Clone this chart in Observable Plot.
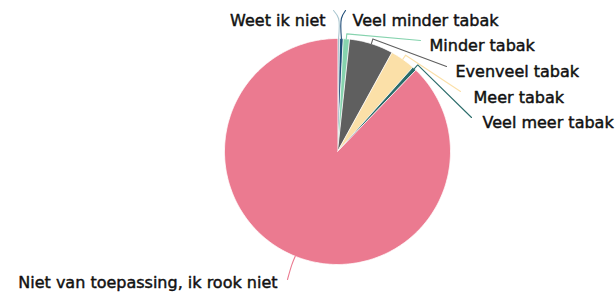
<!DOCTYPE html>
<html><head><meta charset="utf-8">
<script src="https://cdn.jsdelivr.net/npm/d3@7"></script>
<script src="https://cdn.jsdelivr.net/npm/@observablehq/plot@0.6"></script>
<style>body{margin:0;background:#fff;} #chart svg{display:block;}</style>
</head><body><div id="chart"></div>
<script>
// ---- data ----
const categories = ["Weet ik niet","Veel minder tabak","Minder tabak","Evenveel tabak","Meer tabak","Veel meer tabak","Niet van toepassing, ik rook niet"];
const values = [0.3, 0.5, 0.9, 6.3, 3.6, 0.6, 87.8];
const colors = ["#a9c6d0","#1f4d78","#86d3ae","#5f5f5f","#fbe0a8","#2b6c6a","#eb7a90"];

// ---- layout ----
const W = 616, H = 292, cx = 337, cy = 151, R = 113;
const labelX = [325, 352, 429, 455, 473, 482, 277];
const labelY = [20, 20, 45, 71, 97, 122, 282];
const labelAnchor = ["end","start","start","start","start","start","end"];
const lineEndX = [333, 345, 420, 446, 460, 471, 287];
const lineEndY = [10, 10, 40, 66, 91, 117, 279];
const curvedLeader = [true, true, false, false, false, false, true];

const arcs = d3.pie().sort(null).value(d => d)(values);
const pt = (a, r) => [cx + r * Math.sin(a), cy - r * Math.cos(a)];

// slice polygons
const slices = [];
arcs.forEach((a, i) => {
  const cat = categories[i];
  slices.push({cat, x: cx, y: cy});
  const n = Math.max(2, Math.ceil((a.endAngle - a.startAngle) / 0.01));
  for (let k = 0; k <= n; k++) {
    const t = a.startAngle + (a.endAngle - a.startAngle) * k / n;
    const [x, y] = pt(t, R);
    slices.push({cat, x, y});
  }
});

// leader lines
const straight = [], curved = [];
arcs.forEach((a, i) => {
  const cat = categories[i];
  const mid = (a.startAngle + a.endAngle) / 2;
  const [x0, y0] = pt(mid, R);
  let x1, y1;
  if (curvedLeader[i] && i < 2) { x1 = x0; y1 = 18; }
  else { [x1, y1] = pt(mid, R + (i === 6 ? 9 : 5)); }
  const target = curvedLeader[i] ? curved : straight;
  target.push({cat, x: x0, y: y0}, {cat, x: x1, y: y1}, {cat, x: lineEndX[i], y: lineEndY[i]});
});

const labels = categories.map((c, i) => ({cat: c, x: labelX[i], y: labelY[i], anchor: labelAnchor[i]}));

const font = {fontFamily: "DejaVu Sans, Verdana, sans-serif", fontSize: 16, fill: "#111", stroke: "#111", strokeWidth: 0.45};

const chart = Plot.plot({
  width: W, height: H,
  margin: 0,
  x: {domain: [0, W], axis: null},
  y: {domain: [H, 0], axis: null},
  color: {domain: categories, range: colors},
  marks: [
    Plot.line(slices, {x: "x", y: "y", z: "cat", fill: "cat", stroke: "white", strokeWidth: 0.8, strokeLinejoin: "round"}),
    Plot.line(straight, {x: "x", y: "y", z: "cat", stroke: "cat", strokeWidth: 1.1}),
    Plot.line(curved, {x: "x", y: "y", z: "cat", stroke: "cat", strokeWidth: 1.1, curve: "catmull-rom"}),
    Plot.text(labels.filter(d => d.anchor === "start"), {x: "x", y: "y", text: "cat", textAnchor: "start", ...font}),
    Plot.text(labels.filter(d => d.anchor === "end"), {x: "x", y: "y", text: "cat", textAnchor: "end", ...font})
  ]
});
document.getElementById("chart").appendChild(chart);
</script>
</body></html>
